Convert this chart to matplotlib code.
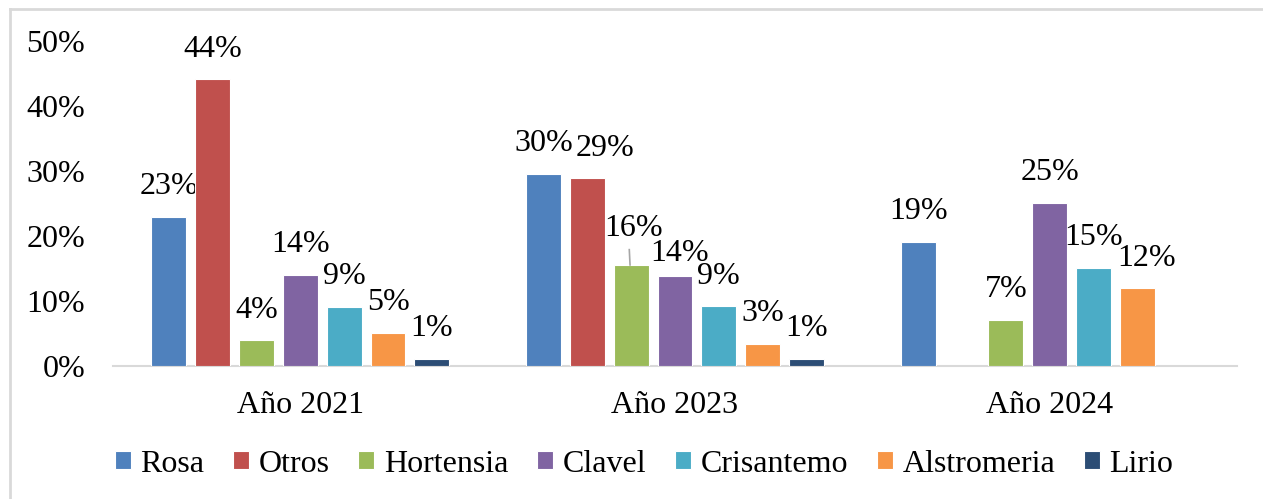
import numpy as np
import matplotlib
matplotlib.use("Agg")
import matplotlib.pyplot as plt
from matplotlib.lines import Line2D

# ── Data ─────────────────────────────────────────────────────────
groups = ["Año 2021", "Año 2023", "Año 2024"]
series = ["Rosa", "Otros", "Hortensia", "Clavel", "Crisantemo", "Alstromeria", "Lirio"]
colors = ["#4F81BD", "#C0504D", "#9BBB59", "#8064A2", "#4BACC6", "#F79646", "#2C4D75"]

rosa = [23.0, 29.6, 19.1]
otros = [44.1, 28.9, np.nan]
hortensia = [4.0, 15.5, 7.1]
clavel = [14.0, 13.8, 25.1]
crisantemo = [9.1, 9.2, 15.1]
alstromeria = [5.1, 3.4, 12.0]
lirio = [1.1, 1.1, np.nan]

values = [rosa, otros, hortensia, clavel, crisantemo, alstromeria, lirio]

# label nudges (pixels) for labels moved by hand in the original
nudge = {(1, 1): (18, 0), (2, 1): (2, 7), (3, 1): (5, -7), (5, 2): (9, 0)}

# ── Plot ─────────────────────────────────────────────────────────
plt.rcParams["font.family"] = ["Liberation Serif", "DejaVu Serif"]
FS = 23

fig = plt.figure(figsize=(12.63, 4.99), dpi=100)
ax = fig.add_axes([113 / 1263, 133 / 499, 1124 / 1263, 325 / 499])

x = np.arange(len(groups))
step = 0.117
width = 0.093
for i, (name, vals, c) in enumerate(zip(series, values, colors)):
    pos = x + (i - 3) * step
    ax.bar(pos, vals, width=width, color=c, edgecolor="white", linewidth=0.8,
           label=name, zorder=3)
    for g, (p, v) in enumerate(zip(pos, vals)):
        if np.isnan(v):
            continue
        dx, dy = nudge.get((i, g), (0, 0))
        ax.annotate(f"{round(v)}%", (p, v), textcoords="offset pixels",
                    xytext=(dx, 30 + dy), ha="center", va="center", fontsize=FS)
        if (i, g) == (2, 1):
            # leader line for the moved label
            ax.plot([p - 0.003, p - 0.005], [v + 0.05, v + 2.4], color="#A6A6A6",
                    linewidth=1.2, zorder=4)

ax.set_xlim(-0.5, 2.5)
ax.set_ylim(0, 50)
ax.set_yticks(np.arange(0, 51, 10))
ax.set_yticklabels([f"{t}%" for t in range(0, 51, 10)])
ax.set_xticks(x)
ax.set_xticklabels(groups)
ax.tick_params(axis="both", length=0, labelsize=FS)
ax.tick_params(axis="x", pad=18)
ax.tick_params(axis="y", pad=20)
for s in ["top", "right", "left"]:
    ax.spines[s].set_visible(False)
ax.spines["bottom"].set_color("#D9D9D9")
ax.spines["bottom"].set_linewidth(1.5)

ax.legend(loc="center", bbox_to_anchor=(644 / 1263, 1 - 464 / 499),
          bbox_transform=fig.transFigure, ncol=7, frameon=False, fontsize=FS,
          handlelength=0.5, handleheight=0.5, handletextpad=0.3,
          columnspacing=0.9, borderaxespad=0)

# outer chart frame (only top and left are visible)
fig.add_artist(Line2D([10 / 1263, 1], [1 - 9 / 499, 1 - 9 / 499],
                      transform=fig.transFigure, color="#D9D9D9", linewidth=2))
fig.add_artist(Line2D([10 / 1263, 10 / 1263], [0, 1 - 9 / 499],
                      transform=fig.transFigure, color="#D9D9D9", linewidth=2))

fig.savefig("out.png", dpi=100)
plt.close()
